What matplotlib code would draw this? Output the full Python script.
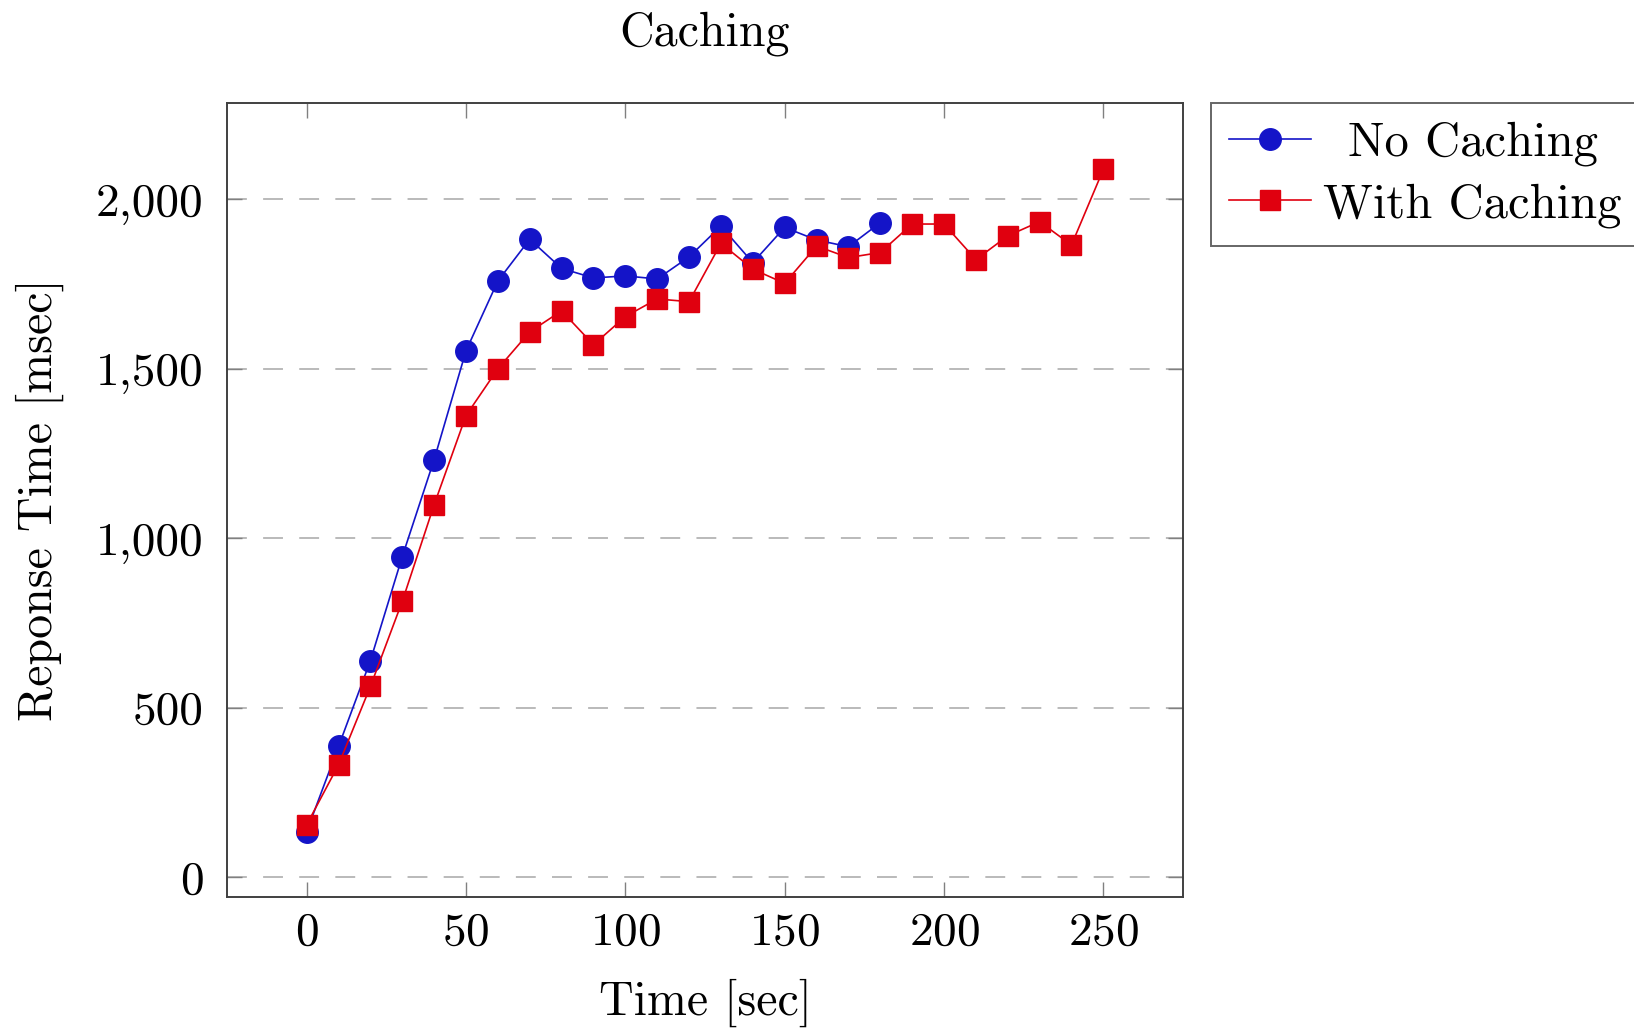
import matplotlib
matplotlib.use("Agg")
import matplotlib.pyplot as plt
from matplotlib.ticker import FuncFormatter, FixedLocator

plt.rcParams["font.family"] = ["cmr10", "DejaVu Serif"]
plt.rcParams["axes.formatter.use_mathtext"] = True
plt.rcParams["mathtext.fontset"] = "cm"

# Response times sampled every 10 seconds
time_no_cache = [0, 10, 20, 30, 40, 50, 60, 70, 80, 90, 100, 110, 120,
                 130, 140, 150, 160, 170, 180]
resp_no_cache = [135, 386, 639, 946, 1232, 1553, 1759, 1882, 1796, 1768, 1774,
                 1765, 1830, 1921, 1813, 1917, 1880, 1860, 1931]

time_cache = [0, 10, 20, 30, 40, 50, 60, 70, 80, 90, 100, 110, 120, 130,
              140, 150, 160, 170, 180, 190, 200, 210, 220, 230, 240, 250]
resp_cache = [155, 332, 563, 814, 1099, 1362, 1500, 1609, 1671, 1571, 1654,
              1706, 1698, 1870, 1794, 1752, 1862, 1828, 1843, 1927, 1927,
              1822, 1892, 1934, 1865, 2088]

x_ticks = [0, 50, 100, 150, 200, 250]
y_ticks = [0, 500, 1000, 1500, 2000]

title = "Caching"
x_label = "Time [sec]"
y_label = "Reponse Time [msec]"
series_labels = ["No Caching", "With Caching"]

BLUE = "#1414c8"
RED = "#e0000f"
FS = 34
LEG_FS = 35

fig = plt.figure(figsize=(16.34, 10.28), dpi=100)
ax = fig.add_axes([227 / 1634, 1 - 897 / 1028, (1183 - 227) / 1634, (897 - 103) / 1028])

ax.plot(time_no_cache, resp_no_cache, color=BLUE, lw=1.2, marker="o",
        markersize=15.5, markerfacecolor=BLUE, markeredgecolor=BLUE,
        label=series_labels[0], zorder=3)
ax.plot(time_cache, resp_cache, color=RED, lw=1.2, marker="s",
        markersize=14.5, markerfacecolor=RED, markeredgecolor=RED,
        label=series_labels[1], zorder=4)

ax.set_xlim(-25, 275)
ax.set_ylim(-58, 2284)
ax.xaxis.set_major_locator(FixedLocator(x_ticks))
ax.yaxis.set_major_locator(FixedLocator(y_ticks))
ax.yaxis.set_major_formatter(FuncFormatter(lambda v, p: f"{v:,.0f}"))

ax.grid(axis="y", color="#b4b4b4", lw=1.3, linestyle=(0, (11, 9)), zorder=1)
ax.tick_params(axis="both", which="major", direction="in", length=11,
               width=1.0, color="#808080", labelsize=FS,
               top=True, right=True)
ax.tick_params(axis="x", pad=11)
ax.tick_params(axis="y", pad=17)
for s in ax.spines.values():
    s.set_color("#404040")
    s.set_linewidth(1.4)

ax.set_xlabel(x_label, fontsize=FS + 0.5)
ax.xaxis.set_label_coords(0.5, (897 - 1003) / 794)
ax.xaxis.label.set_va("center")
ax.set_ylabel(y_label, fontsize=FS + 0.5)
ax.yaxis.set_label_coords((40 - 227) / 956, 0.5)
ax.yaxis.label.set_va("center")

fig.text(705 / 1634, 1 - 34 / 1028, title, fontsize=FS + 0.5, ha="center", va="center")

leg = ax.legend(loc="upper left", bbox_to_anchor=(1211 / 1634, 1 - 103 / 1028),
                bbox_transform=fig.transFigure, fontsize=LEG_FS, frameon=True,
                fancybox=False, edgecolor="#404040", handlelength=1.67,
                handletextpad=0.26, borderpad=0.38, labelspacing=0.34,
                borderaxespad=0)
leg.get_frame().set_linewidth(1.4)

# Center the legend entries' text within the text column
fig.canvas.draw()
renderer = fig.canvas.get_renderer()
texts = leg.get_texts()
widths = [t.get_window_extent(renderer).width for t in texts]
wmax = max(widths)
for t, w in zip(texts, widths):
    t.set_x((wmax - w) / 2)

fig.savefig("out.png", dpi=100)
